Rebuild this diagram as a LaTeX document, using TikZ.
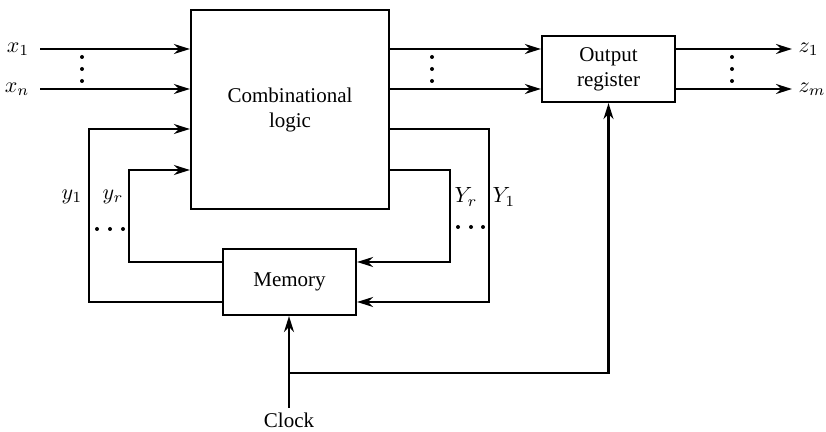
\documentclass[tikz,border=0pt]{standalone}
\usepackage{fontspec}
\setmainfont{Liberation Serif}
\usetikzlibrary{positioning,arrows.meta,calc}

\begin{document}
\begin{tikzpicture}[x=0.5pt, y=-0.5pt,
  blk/.style={draw, line width=1.1pt, inner sep=2pt, align=center,
    font=\fontsize{10.5}{12.5}\selectfont},
  lbl/.style={inner sep=1pt, font=\fontsize{10.5}{12.5}\selectfont},
  ml/.style={inner sep=1pt, scale=1.1},
  ar/.style={-{Stealth[length=8pt,width=5pt]}, line width=1.1pt},
  ln/.style={line width=1.1pt}
]
\useasboundingbox (0,0) rectangle (826,432);
\node[blk, minimum width=99pt, minimum height=99.5pt] (comb) at (290,109.5) {Combinational\\logic};
\node[blk, minimum width=66.5pt, minimum height=33pt] (outreg) at (608.5,69) {Output\\register};
\node[blk, minimum width=66.5pt, minimum height=33pt] (mem) at (289.5,282) {Memory};

% inputs
\coordinate (x1) at (40,49);
\coordinate (xn) at (40,89);
\node[ml, left=4pt of x1] (lx1) {$x_1$};
\node[ml, left=4pt of xn] (lxn) {$x_n$};
\draw[ar] (x1) -- (x1 -| comb.west);
\draw[ar] (xn) -- (xn -| comb.west);

% to the output register
\draw[ar] (comb.east |- x1) -- (outreg.west |- x1);
\draw[ar] (comb.east |- xn) -- (outreg.west |- xn);

% outputs
\coordinate (z1) at (792,49);
\coordinate (zm) at (792,89);
\draw[ar] (outreg.east |- z1) -- (z1);
\draw[ar] (outreg.east |- zm) -- (zm);
\node[ml, right=2pt of z1] (lz1) {$z_1$};
\node[ml, right=2pt of zm] (lzm) {$z_m$};

% state feedback
\coordinate (fy1) at (89,129);
\coordinate (fyr) at (129,170);
\coordinate (fY1) at (489,129);
\coordinate (fYr) at (450,170);
\draw[ar] ([yshift=-10pt]mem.west) -| (fy1) -- (fy1 -| comb.west);
\draw[ar] ([yshift=10pt]mem.west) -| (fyr) -- (fyr -| comb.west);
\draw[ar] (comb.east |- fY1) -- (fY1) |- ([yshift=-10pt]mem.east);
\draw[ar] (comb.east |- fYr) -- (fYr) |- ([yshift=10pt]mem.east);
\node[ml] (ly1) at (72,197) {$y_1$};
\node[ml] (lyr) at (113,197) {$y_r$};
\node[ml] (lYr) at (466,197) {$Y_r$};
\node[ml] (lY1) at (504,197) {$Y_1$};

% clock
\coordinate (clk) at (289,408);
\coordinate (br) at (289,373);
\node[lbl, anchor=base] (lclk) at (289,428) {Clock};
\draw[ar] (clk) -- (clk |- mem.south);
\draw[ar] (br) -| (outreg.south);

% dots
\foreach \y in {57,69,81} {
  \fill (82,\y) circle (1pt);
  \fill (432,\y) circle (1pt);
  \fill (732,\y) circle (1pt);
}
\foreach \x in {97,110,123} \fill (\x,229) circle (1pt);
\foreach \x in {458,471,483} \fill (\x,227) circle (1pt);
\end{tikzpicture}
\end{document}
